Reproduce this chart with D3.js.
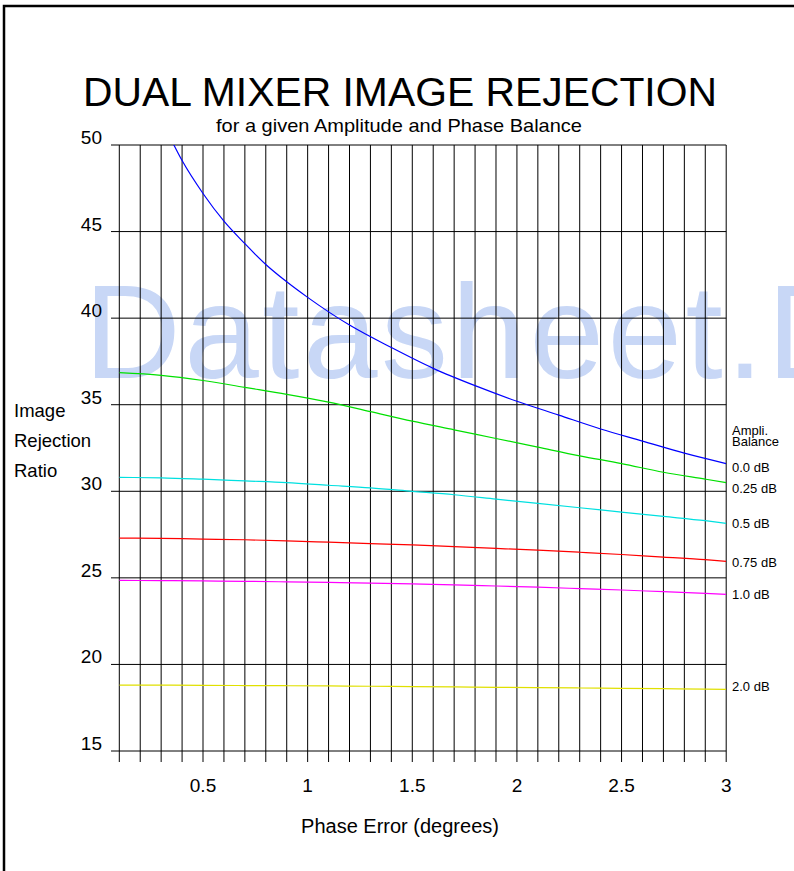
<!DOCTYPE html>
<html>
<head>
<meta charset="utf-8">
<script src="https://cdn.jsdelivr.net/npm/d3@7"></script>
<style>
  body { margin: 0; background: #fff; }
  svg text { font-family: "Liberation Sans", Arial, sans-serif; }
</style>
</head>
<body>
<svg id="chart" width="794" height="871"></svg>
<script>
// Phase error sample points (degrees)
const phaseX = [0.1, 0.3, 0.5, 0.7, 0.9, 1.1, 1.3, 1.5, 1.7, 1.9, 2.1, 2.3, 2.5, 2.7, 2.9, 3.0];
// the 0 dB curve only enters the chart near 0.35 degrees
const phaseX0 = [0.34, 0.4, 0.5, 0.6, 0.7, 0.8, 0.9, 1.0, 1.2, 1.4, 1.6, 1.8, 2.0, 2.2, 2.4, 2.6, 2.8, 3.0];

// Image rejection ratio, one array per amplitude balance
const bal00 = [50.5, 49.1, 47.2, 45.6, 44.3, 43.1, 42.1, 41.2, 39.6, 38.3, 37.1, 36.1, 35.2, 34.4, 33.6, 32.9, 32.2, 31.6];
const bal025 = [36.85, 36.7, 36.4, 36.0, 35.6, 35.15, 34.6, 34.05, 33.55, 33.05, 32.55, 32.05, 31.6, 31.1, 30.7, 30.5];
const bal05 = [30.8, 30.78, 30.7, 30.6, 30.5, 30.35, 30.2, 30.0, 29.8, 29.55, 29.3, 29.05, 28.8, 28.55, 28.3, 28.15];
const bal075 = [27.3, 27.28, 27.24, 27.2, 27.14, 27.06, 26.98, 26.9, 26.8, 26.7, 26.6, 26.48, 26.35, 26.2, 26.05, 25.95];
const bal10 = [24.85, 24.84, 24.82, 24.8, 24.77, 24.74, 24.7, 24.65, 24.6, 24.53, 24.46, 24.38, 24.3, 24.2, 24.1, 24.05];
const bal20 = [18.8, 18.8, 18.79, 18.78, 18.77, 18.76, 18.74, 18.72, 18.7, 18.68, 18.66, 18.64, 18.62, 18.6, 18.57, 18.56];

const seriesNames = ["0.0 dB", "0.25 dB", "0.5 dB", "0.75 dB", "1.0 dB", "2.0 dB"];
const seriesColors = ["#0000ff", "#00e000", "#00e0e0", "#ff0000", "#ff00ff", "#e0e000"];
const seriesValues = [bal00, bal025, bal05, bal075, bal10, bal20];
const seriesX = [phaseX0, phaseX, phaseX, phaseX, phaseX, phaseX];
// label centre position in data units (labels sit slightly off their lines)
const labelAt = [31.4, 30.15, 28.15, 25.9, 24.05, 18.7];

const yTicks = [15, 20, 25, 30, 35, 40, 45, 50];
const xTicks = [0.5, 1, 1.5, 2, 2.5, 3];
const xGrid = d3.range(1, 31).map(d => d / 10);

const svg = d3.select("#chart");

// outer frame
svg.append("rect")
  .attr("x", 4).attr("y", 6).attr("width", 820).attr("height", 900)
  .attr("fill", "none").attr("stroke", "#000").attr("stroke-width", 2.5);

const x = d3.scaleLinear().domain([0.1, 3]).range([119.3, 726.2]);
const y = d3.scaleLinear().domain([15, 50]).range([751, 145]);

// watermark behind everything
svg.append("text")
  .attr("x", 84).attr("y", 378)
  .attr("font-size", 134)
  .attr("letter-spacing", 3.5)
  .attr("fill", "#c8d7f6")
  .text("Datasheet.D");

// title
svg.append("text")
  .attr("x", 400).attr("y", 106)
  .attr("text-anchor", "middle")
  .attr("font-size", 41)
  .attr("textLength", 634)
  .attr("lengthAdjust", "spacingAndGlyphs")
  .text("DUAL MIXER IMAGE REJECTION");

svg.append("text")
  .attr("x", 399).attr("y", 132)
  .attr("text-anchor", "middle")
  .attr("font-size", 19)
  .attr("textLength", 366)
  .attr("lengthAdjust", "spacingAndGlyphs")
  .text("for a given Amplitude and Phase Balance");

// vertical grid lines
svg.append("g").selectAll("line")
  .data(xGrid)
  .join("line")
  .attr("x1", d => x(d)).attr("x2", d => x(d))
  .attr("y1", y(50)).attr("y2", y(15) + 11)
  .attr("stroke", "#000").attr("stroke-width", 1);

// horizontal grid lines
svg.append("g").selectAll("line")
  .data(yTicks)
  .join("line")
  .attr("x1", 111).attr("x2", x(3))
  .attr("y1", d => y(d)).attr("y2", d => y(d))
  .attr("stroke", "#000").attr("stroke-width", 1);

// y tick labels
svg.append("g").selectAll("text")
  .data(yTicks)
  .join("text")
  .attr("x", 102).attr("y", d => y(d) - 1)
  .attr("text-anchor", "end")
  .attr("font-size", 19)
  .text(d => d);

// x tick labels
svg.append("g").selectAll("text")
  .data(xTicks)
  .join("text")
  .attr("x", d => x(d)).attr("y", 792)
  .attr("text-anchor", "middle")
  .attr("font-size", 19)
  .text(d => d);

// axis titles
svg.append("text")
  .attr("x", 400).attr("y", 833)
  .attr("text-anchor", "middle")
  .attr("font-size", 20)
  .text("Phase Error (degrees)");

const yTitle = svg.append("text").attr("font-size", 18.5);
["Image", "Rejection", "Ratio"].forEach((t, i) => {
  yTitle.append("tspan").attr("x", 14).attr("y", 417 + i * 30).text(t);
});

// curves, clipped to the plot area
svg.append("clipPath").attr("id", "plot")
  .append("rect")
  .attr("x", x(0.1)).attr("y", y(50))
  .attr("width", x(3) - x(0.1)).attr("height", y(15) - y(50));

svg.append("g").attr("clip-path", "url(#plot)")
  .selectAll("path")
  .data(seriesValues)
  .join("path")
  .attr("d", (vals, k) => d3.line()
    .x((d, i) => x(seriesX[k][i]))
    .y(d => y(d))
    .curve(d3.curveMonotoneX)(vals))
  .attr("fill", "none")
  .attr("stroke", (d, i) => seriesColors[i])
  .attr("stroke-width", 1.2);

// right-hand labels
svg.append("text").attr("x", 732).attr("y", 435).attr("font-size", 13).text("Ampli.");
svg.append("text").attr("x", 732).attr("y", 446).attr("font-size", 13).text("Balance");

svg.append("g").selectAll("text")
  .data(seriesNames)
  .join("text")
  .attr("x", 732)
  .attr("y", (d, i) => y(labelAt[i]) + 4.5)
  .attr("font-size", 13)
  .text(d => d);
</script>
</body>
</html>
